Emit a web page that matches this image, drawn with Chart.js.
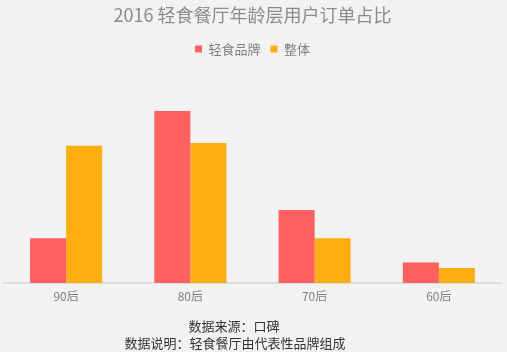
<!DOCTYPE html>
<html>
<head>
<meta charset="utf-8">
<script src="https://cdn.jsdelivr.net/npm/chart.js@4"></script>
<style>
html,body{margin:0;padding:0;background:#f2f2f2;}
#wrap{width:507px;height:352px;}
</style>
</head>
<body>
<div id="wrap"><canvas id="c"></canvas></div>
<script>
var categories = ['90后', '80后', '70后', '60后'];
var brandValues = [14.4, 55.4, 23.5, 6.6];
var overallValues = [44.2, 45.1, 14.4, 4.9];
var seriesNames = ['轻食品牌', '整体'];
var footLines = ['数据来源：口碑', '数据说明：轻食餐厅由代表性品牌组成'];

var font = '"Noto Sans CJK SC", "Noto Sans", sans-serif';
Chart.defaults.font.family = font;

// footer notes, drawn under the axis a bit left of centre like the original
var footer = {
  id: 'footer',
  afterDraw: function(chart) {
    var c = chart.ctx;
    c.save();
    c.font = '13px ' + font;
    c.fillStyle = '#333333';
    c.textAlign = 'center';
    c.textBaseline = 'middle';
    c.fillText(footLines[0], 234, 326);
    c.fillText(footLines[1], 235, 343);
    c.restore();
  }
};

var ctx = document.getElementById('c').getContext('2d');
var myChart = new Chart(ctx, {
  type: 'bar',
  data: {
    labels: categories,
    datasets: [
      {label: seriesNames[0], data: brandValues, backgroundColor: '#ff6060'},
      {label: seriesNames[1], data: overallValues, backgroundColor: '#ffae12'}
    ]
  },
  options: {
    responsive: true,
    maintainAspectRatio: false,
    animation: false,
    layout: {padding: {left: 4, right: 6, top: 4, bottom: 50.5}},
    datasets: {bar: {categoryPercentage: 0.58, barPercentage: 1}},
    plugins: {
      title: {
        display: true,
        text: '2016 轻食餐厅年龄层用户订单占比',
        color: '#8c8c8c',
        font: {size: 18, weight: 'normal'},
        padding: {top: 0, bottom: 7}
      },
      legend: {
        labels: {
          boxWidth: 7, boxHeight: 7, color: '#808080',
          font: {size: 13}, padding: 10
        }
      },
      tooltip: {enabled: false}
    },
    scales: {
      x: {
        grid: {display: false},
        border: {color: '#dedede', width: 2},
        ticks: {color: '#808080', font: {size: 12}, padding: -2}
      },
      y: {display: false, min: 0, max: 70}
    }
  },
  plugins: [footer]
});
</script>
</body>
</html>
